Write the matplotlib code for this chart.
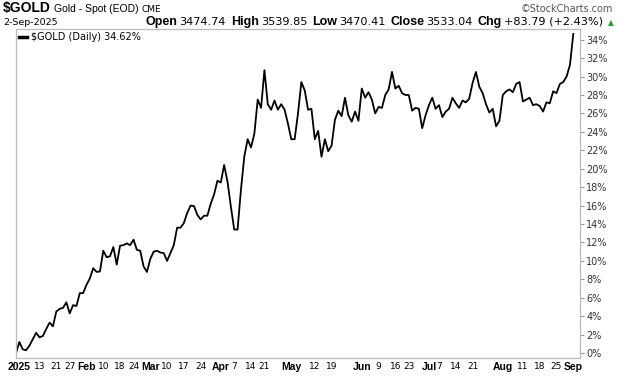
import numpy as np
import pandas as pd
import matplotlib
matplotlib.use('Agg')
import matplotlib.pyplot as plt

# $GOLD % change since 31-Dec-2024 close, one value per trading day
pct = [0.0, 1.2, 0.4, 0.3, 0.8, 1.5, 2.2, 1.7, 1.85, 2.6,
       3.3, 2.9, 4.5, 4.8, 4.9, 5.5, 4.3, 5.2, 5.1, 6.5,
       6.5, 7.4, 8.1, 9.2, 8.8, 8.85, 11.1, 10.4, 10.5, 11.5,
       9.6, 11.65, 11.7, 11.9, 11.7, 12.3, 11.2, 11.1, 9.4, 8.8,
       10.2, 11.0, 11.1, 10.9, 10.85, 10.0, 10.85, 11.7, 13.6, 13.6,
       14.1, 15.2, 16.0, 15.95, 15.0, 14.5, 14.9, 14.9, 16.2, 17.2,
       18.7, 18.5, 20.4, 18.6, 15.9, 13.4, 13.4, 17.7, 21.3, 23.2,
       22.3, 23.8, 27.5, 26.6, 30.7, 27.0, 26.4, 27.4, 26.4, 27.0,
       26.4, 24.9, 23.2, 23.2, 26.0, 29.4, 28.5, 26.4, 26.5, 23.2,
       24.1, 21.3, 23.2, 21.9, 22.5, 25.3, 26.3, 25.7, 27.7, 25.8,
       25.1, 26.2, 25.2, 28.7, 27.7, 28.3, 27.5, 26.0, 26.7, 26.6,
       28.0, 28.6, 30.5, 28.7, 29.0, 28.2, 28.0, 28.0, 26.3, 26.6,
       26.5, 24.4, 25.8, 26.9, 27.7, 26.5, 26.9, 25.6, 26.2, 26.5,
       27.7, 27.1, 26.6, 27.4, 27.2, 27.6, 29.3, 30.5, 28.9, 28.2,
       27.0, 26.1, 26.5, 24.6, 25.2, 28.0, 28.4, 28.6, 28.3, 29.2,
       29.4, 27.3, 27.5, 27.7, 26.9, 27.0, 26.8, 26.2, 27.2, 27.1,
       28.4, 28.2, 29.2, 29.4, 30.0, 31.25, 34.62]

holidays = ['2025-01-09', '2025-01-20', '2025-02-17', '2025-04-18',
            '2025-05-26', '2025-06-19', '2025-07-04', '2025-09-01']
dates = [pd.Timestamp('2024-12-31')] + list(
    pd.bdate_range('2025-01-02', '2025-09-02', freq='C', holidays=holidays))

tick_dates = ['2025-01-02', '2025-01-13', '2025-01-21', '2025-01-27',
              '2025-02-03', '2025-02-10', '2025-02-18', '2025-02-24',
              '2025-03-03', '2025-03-10', '2025-03-17', '2025-03-24',
              '2025-04-01', '2025-04-07', '2025-04-14', '2025-04-21',
              '2025-05-01', '2025-05-12', '2025-05-19',
              '2025-06-02', '2025-06-09', '2025-06-16', '2025-06-23',
              '2025-07-01', '2025-07-07', '2025-07-14', '2025-07-21',
              '2025-08-01', '2025-08-11', '2025-08-18', '2025-08-25',
              '2025-09-02']
tick_labels = ['2025', '13', '21', '27', 'Feb', '10', '18', '24',
               'Mar', '10', '17', '24', 'Apr', '7', '14', '21',
               'May', '12', '19', 'Jun', '9', '16', '23',
               'Jul', '7', '14', '21', 'Aug', '11', '18', '25', 'Sep']
y_ticks = list(range(0, 35, 2))

quote_parts = [('Open', '3474.74'), ('High', '3539.85'), ('Low', '3470.41'),
               ('Close', '3533.04'), ('Chg', '+83.79 (+2.43%)')]

W, H = 620, 376
fig = plt.figure(figsize=(W / 100, H / 100), dpi=100)
ax = fig.add_axes([16 / W, 18 / H, 564 / W, 329 / H])

x = np.arange(len(pct))
ax.plot(x, pct, color='black', lw=1.3)
ax.set_xlim(0, 168.0)
ax.set_ylim(-0.54, 35.16)

# axes frame
for s in ['left', 'right', 'top']:
    ax.spines[s].set_color('#bbbbbb')
    ax.spines[s].set_linewidth(0.9)
ax.spines['bottom'].set_color('#bbbbbb')
ax.spines['bottom'].set_linestyle((0, (1, 1)))
ax.spines['bottom'].set_linewidth(0.9)

# y axis on the right
ax.yaxis.tick_right()
ax.set_yticks(y_ticks)
ax.set_yticklabels([f'{v}%' for v in y_ticks], fontsize=7, color='#333333',
                   family='DejaVu Sans')
ax.tick_params(axis='y', length=3, color='#999999', pad=1.5, width=0.8)

# x axis
pos = [dates.index(pd.Timestamp(d)) for d in tick_dates]
ax.set_xticks(pos)
ax.set_xticklabels(tick_labels)
ax.tick_params(axis='x', length=0, pad=3)
for lab in ax.get_xticklabels():
    if lab.get_text().isdigit() and lab.get_text() != '2025':
        lab.set_fontsize(6.5)
        lab.set_family('DejaVu Sans')
    else:
        lab.set_fontsize(7.5)
        lab.set_fontweight('bold')
        lab.set_family('Liberation Sans')

# legend line
ax.plot([], [], color='black', lw=2.5, label='\\$GOLD (Daily) 34.62%')
ax.legend(loc='upper left', frameon=False,
          handlelength=0.8, handletextpad=0.4, borderaxespad=0.1,
          borderpad=0.2, prop={'family': 'DejaVu Sans', 'size': 7})

# header
r = fig.canvas.get_renderer()


def put_runs(x0, ybase, parts, right=None):
    objs = []
    xx = x0
    for s, kw, gap in parts:
        t = fig.text(xx / W, 1 - ybase / H, s, ha='left', va='baseline', **kw)
        bb = t.get_window_extent(renderer=r)
        xx = bb.x1 + gap
        objs.append(t)
    if right is not None:
        shift = (right - xx) / W
        for t in objs:
            px, py = t.get_position()
            t.set_position((px + shift, py))
    return objs


narrow = ['Liberation Sans Narrow', 'DejaVu Sans Condensed', 'Liberation Sans']
put_runs(3, 12, [
    ('\\$GOLD', dict(fontsize=10, fontweight='bold', family=narrow,
                    fontstretch='condensed'), 3),
    ('Gold - Spot (EOD)', dict(fontsize=7.5, family=narrow), 3),
    ('CME', dict(fontsize=6.5, family='DejaVu Sans'), 0),
])
fig.text(613 / W, 1 - 12 / H, '\u00a9StockCharts.com', ha='right', va='baseline',
         fontsize=7, color='#555555', family='DejaVu Sans')
fig.text(3 / W, 1 - 25 / H, '2-Sep-2025', ha='left', va='baseline',
         fontsize=6.8, family='DejaVu Sans')

row = []
for lab, val in quote_parts:
    row.append((lab, dict(fontsize=9, fontweight='bold', family='Liberation Sans'), 2))
    row.append((val, dict(fontsize=8.1, family='DejaVu Sans'), 5))
row.append(('\u25b2', dict(fontsize=5.5, color='#2e9e2e', family='DejaVu Sans'), 0))
put_runs(140, 25, row, right=614)

fig.savefig('out.png', dpi=100)
